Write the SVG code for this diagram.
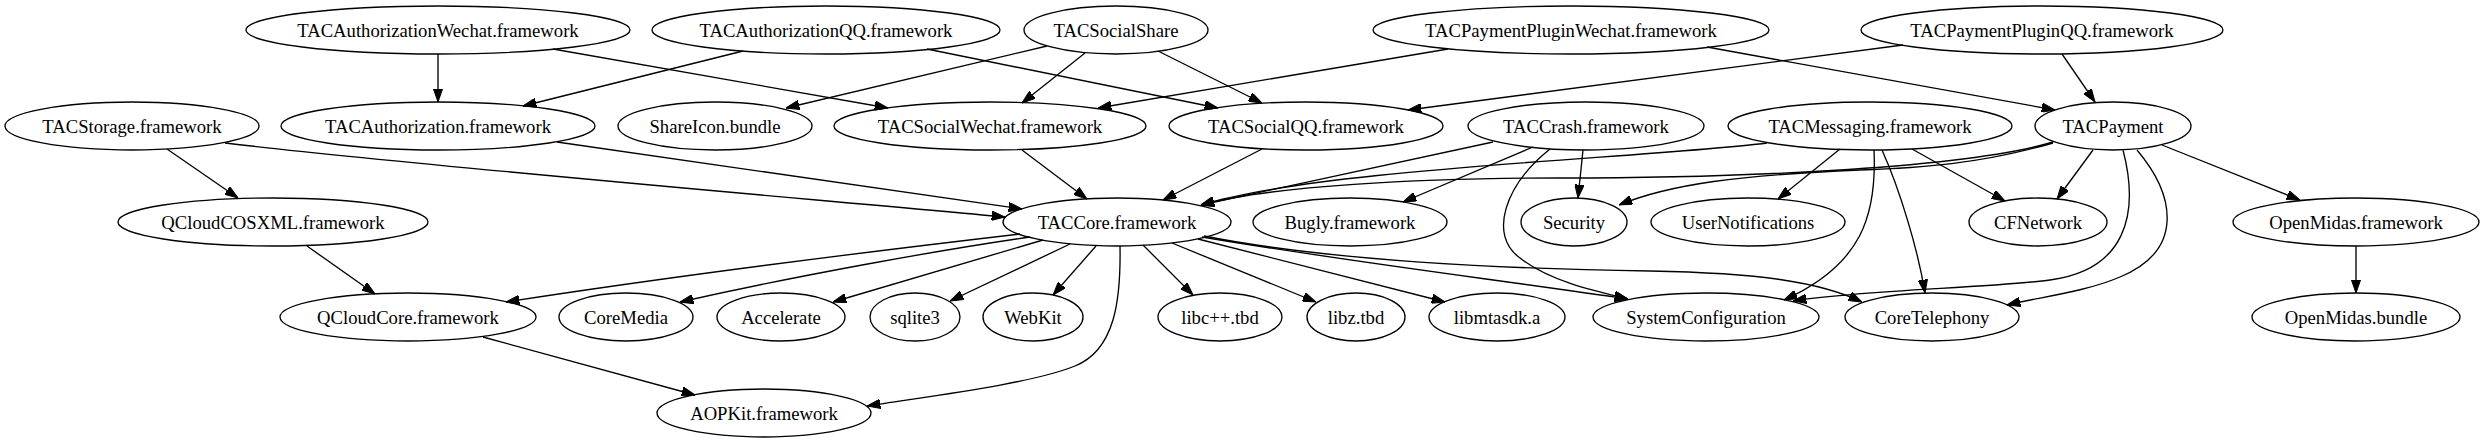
<svg xmlns="http://www.w3.org/2000/svg" width="2485" height="443" viewBox="0 0 2485 443">
<style>
.n ellipse{fill:none;stroke:#000;stroke-width:1.33}
.n text{font-family:"Liberation Serif","Times New Roman",serif;font-size:18.67px;text-anchor:middle;fill:#000}
.e path{fill:none;stroke:#000;stroke-width:1.33;marker-end:url(#a)}
</style>
<defs>
<marker id="a" viewBox="0 0 13.33 9.33" markerWidth="13.33" markerHeight="9.33" refX="13.33" refY="4.67" orient="auto" markerUnits="userSpaceOnUse">
<path d="M0,0 L13.33,4.67 L0,9.33 z" fill="#000" stroke="#000" stroke-width="1"/>
</marker>
</defs>
<rect width="2485" height="443" fill="#fff"/>
<g id="edges" class="e">
<path d="M438,54 L438,102"/>
<path d="M553,49 L888,108"/>
<path d="M743,51 L523,106"/>
<path d="M927,49 L1218,108"/>
<path d="M1047,46 L786,108"/>
<path d="M1085,53 L1022,103"/>
<path d="M1158,51 L1262,103"/>
<path d="M1448,49 L1098,108"/>
<path d="M1707,47 L2055,110"/>
<path d="M1903,45 L1408,110"/>
<path d="M2062,54 L2095,102"/>
<path d="M167,149 L238,198"/>
<path d="M225,143 C420,166 800,198 1005,217"/>
<path d="M557,142 L1022,209"/>
<path d="M1022,150 L1087,199"/>
<path d="M1262,149 L1163,200"/>
<path d="M1493,142 L1201,205"/>
<path d="M1767,143 C1650,158 1320,168 1201,205"/>
<path d="M2053,142 C1960,170 1720,178 1560,178 C1420,178 1270,186 1201,205"/>
<path d="M2053,143 C1980,164 1920,168 1860,170 C1740,175 1670,184 1619,205"/>
<path d="M1533,147 L1403,202"/>
<path d="M1583,150 L1578,198"/>
<path d="M1550,149 C1505,185 1488,235 1520,258 C1548,280 1590,290 1628,299"/>
<path d="M1840,149 L1778,199"/>
<path d="M1874,150 C1877,215 1862,265 1784,300"/>
<path d="M1882,150 C1900,190 1918,250 1925,293"/>
<path d="M1912,149 L2005,201"/>
<path d="M2093,150 L2057,199"/>
<path d="M2123,150 C2140,215 2125,270 2050,280 C1990,288 1860,290 1793,301"/>
<path d="M2137,150 C2175,195 2185,250 2120,277 C2085,292 2040,297 2007,305"/>
<path d="M2162,145 L2300,200"/>
<path d="M2356,246 L2356,293"/>
<path d="M307,246 L375,294"/>
<path d="M483,337 L695,395"/>
<path d="M1020,234 C900,248 700,272 506,302"/>
<path d="M1030,237 C940,250 800,275 680,302"/>
<path d="M1043,240 L833,302"/>
<path d="M1070,244 L950,301"/>
<path d="M1096,246 L1053,295"/>
<path d="M1120,246 C1121,300 1115,350 1075,366 C1030,384 930,396 867,406"/>
<path d="M1143,245 L1193,295"/>
<path d="M1172,243 L1316,302"/>
<path d="M1198,239 L1445,302"/>
<path d="M1202,237 C1350,262 1500,280 1628,299"/>
<path d="M1204,236 C1300,255 1450,268 1650,271 C1760,273 1820,282 1862,302"/>
</g>
<g id="TACAuthorizationWechat" class="n"><ellipse cx="438" cy="30" rx="192" ry="24"/><text x="438" y="36.5">TACAuthorizationWechat.framework</text></g>
<g id="TACAuthorizationQQ" class="n"><ellipse cx="826" cy="30" rx="174" ry="24"/><text x="826" y="36.5">TACAuthorizationQQ.framework</text></g>
<g id="TACSocialShare" class="n"><ellipse cx="1116" cy="30" rx="92" ry="24"/><text x="1116" y="36.5">TACSocialShare</text></g>
<g id="TACPaymentPluginWechat" class="n"><ellipse cx="1571" cy="30" rx="198" ry="24"/><text x="1571" y="36.5">TACPaymentPluginWechat.framework</text></g>
<g id="TACPaymentPluginQQ" class="n"><ellipse cx="2042" cy="30" rx="181" ry="24"/><text x="2042" y="36.5">TACPaymentPluginQQ.framework</text></g>
<g id="TACStorage" class="n"><ellipse cx="132" cy="126" rx="127" ry="24"/><text x="132" y="132.5">TACStorage.framework</text></g>
<g id="TACAuthorization" class="n"><ellipse cx="438" cy="126" rx="157" ry="24"/><text x="438" y="132.5">TACAuthorization.framework</text></g>
<g id="ShareIcon" class="n"><ellipse cx="715" cy="126" rx="97" ry="24"/><text x="715" y="132.5">ShareIcon.bundle</text></g>
<g id="TACSocialWechat" class="n"><ellipse cx="990" cy="126" rx="156" ry="24"/><text x="990" y="132.5">TACSocialWechat.framework</text></g>
<g id="TACSocialQQ" class="n"><ellipse cx="1306" cy="126" rx="137" ry="24"/><text x="1306" y="132.5">TACSocialQQ.framework</text></g>
<g id="TACCrash" class="n"><ellipse cx="1586" cy="126" rx="118" ry="24"/><text x="1586" y="132.5">TACCrash.framework</text></g>
<g id="TACMessaging" class="n"><ellipse cx="1870" cy="126" rx="142" ry="24"/><text x="1870" y="132.5">TACMessaging.framework</text></g>
<g id="TACPayment" class="n"><ellipse cx="2113" cy="126" rx="78" ry="24"/><text x="2113" y="132.5">TACPayment</text></g>
<g id="QCloudCOSXML" class="n"><ellipse cx="273" cy="222" rx="155" ry="24"/><text x="273" y="228.5">QCloudCOSXML.framework</text></g>
<g id="TACCore" class="n"><ellipse cx="1117" cy="222" rx="114" ry="24"/><text x="1117" y="228.5">TACCore.framework</text></g>
<g id="Bugly" class="n"><ellipse cx="1350" cy="222" rx="97" ry="24"/><text x="1350" y="228.5">Bugly.framework</text></g>
<g id="Security" class="n"><ellipse cx="1574" cy="222" rx="53" ry="24"/><text x="1574" y="228.5">Security</text></g>
<g id="UserNotifications" class="n"><ellipse cx="1748" cy="222" rx="97" ry="24"/><text x="1748" y="228.5">UserNotifications</text></g>
<g id="CFNetwork" class="n"><ellipse cx="2038" cy="222" rx="69" ry="24"/><text x="2038" y="228.5">CFNetwork</text></g>
<g id="OpenMidasFramework" class="n"><ellipse cx="2356" cy="222" rx="123" ry="24"/><text x="2356" y="228.5">OpenMidas.framework</text></g>
<g id="QCloudCore" class="n"><ellipse cx="408" cy="317" rx="128" ry="24"/><text x="408" y="323.5">QCloudCore.framework</text></g>
<g id="CoreMedia" class="n"><ellipse cx="626" cy="317" rx="67" ry="24"/><text x="626" y="323.5">CoreMedia</text></g>
<g id="Accelerate" class="n"><ellipse cx="781" cy="317" rx="64" ry="24"/><text x="781" y="323.5">Accelerate</text></g>
<g id="sqlite3" class="n"><ellipse cx="915" cy="317" rx="45" ry="24"/><text x="915" y="323.5">sqlite3</text></g>
<g id="WebKit" class="n"><ellipse cx="1033" cy="317" rx="50" ry="24"/><text x="1033" y="323.5">WebKit</text></g>
<g id="libcpp" class="n"><ellipse cx="1220" cy="317" rx="62" ry="24"/><text x="1220" y="323.5">libc++.tbd</text></g>
<g id="libz" class="n"><ellipse cx="1356" cy="317" rx="49" ry="24"/><text x="1356" y="323.5">libz.tbd</text></g>
<g id="libmtasdk" class="n"><ellipse cx="1497" cy="317" rx="68" ry="24"/><text x="1497" y="323.5">libmtasdk.a</text></g>
<g id="SystemConfiguration" class="n"><ellipse cx="1706" cy="317" rx="113" ry="24"/><text x="1706" y="323.5">SystemConfiguration</text></g>
<g id="CoreTelephony" class="n"><ellipse cx="1932" cy="317" rx="87" ry="24"/><text x="1932" y="323.5">CoreTelephony</text></g>
<g id="OpenMidasBundle" class="n"><ellipse cx="2356" cy="317" rx="104" ry="24"/><text x="2356" y="323.5">OpenMidas.bundle</text></g>
<g id="AOPKit" class="n"><ellipse cx="764" cy="413" rx="107" ry="24"/><text x="764" y="419.5">AOPKit.framework</text></g>
</svg>
